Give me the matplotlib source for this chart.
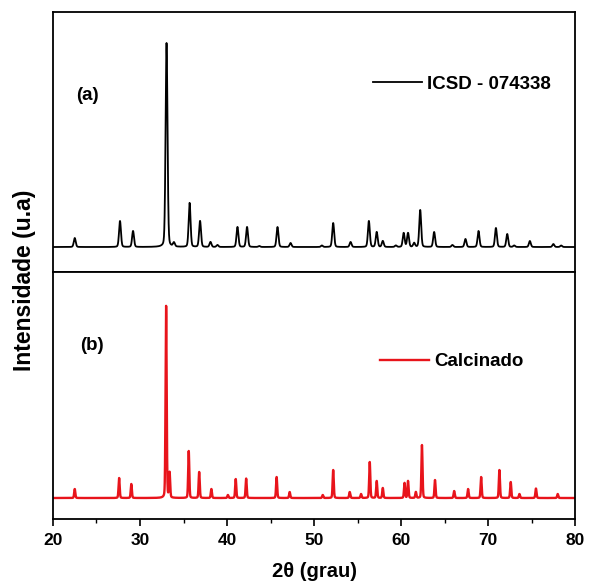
import numpy as np
import matplotlib
matplotlib.use("Agg")
import matplotlib.pyplot as plt
from matplotlib.ticker import MultipleLocator

plt.rcParams["font.family"] = ["Liberation Sans", "DejaVu Sans"]

# ICSD - 074338 (padrão de referência): posição 2θ, altura relativa
icsd_pos = [22.5, 27.7, 29.2, 33.05, 33.9, 35.7, 36.9, 38.1, 38.9, 41.2, 42.3, 43.7,
            45.8, 47.3, 50.9, 52.2, 54.2, 56.3, 57.2, 57.9, 59.4, 60.3, 60.8, 61.5,
            62.2, 63.8, 65.9, 67.4, 68.9, 70.9, 72.2, 73.0, 74.8, 77.5, 78.4]
icsd_h = [9, 26, 16, 204, 4, 44, 26, 5, 2, 20, 20, 1,
          20, 4, 1.5, 24, 5, 26, 15, 6, 1.5, 14, 14, 4,
          37, 15, 2, 8, 16, 19, 13, 1.5, 6, 3, 1.5]

# amostra calcinada
calc_pos = [22.5, 27.6, 29.0, 33.0, 33.4, 35.6, 36.8, 38.2, 40.1, 41.0, 42.2, 45.7,
            47.2, 51.0, 52.2, 54.1, 55.4, 56.4, 57.2, 57.9, 60.4, 60.8, 61.7, 62.4,
            63.9, 66.1, 67.7, 69.2, 71.3, 72.6, 73.6, 75.5, 78.0]
calc_h = [9, 20, 14, 192, 25, 47, 26, 9, 3, 19, 19.5, 21,
          6, 3, 28, 6, 4, 36, 17, 10, 15, 17, 6, 53,
          18, 7, 9, 21, 28, 16, 4, 9.5, 4]


def profile(x, pos, h, sig, eta=0.2):
    # pseudo-Voigt
    y = np.zeros_like(x)
    for p, a in zip(pos, h):
        g = np.exp(-0.5 * ((x - p) / sig) ** 2)
        l = 1 / (1 + ((x - p) / (1.18 * sig)) ** 2)
        y += a * ((1 - eta) * g + eta * l)
    return y


x = np.linspace(20, 80, 8000)
y_a = profile(x, icsd_pos, icsd_h, 0.11)
y_b = profile(x, calc_pos, calc_h, 0.065)

fig = plt.figure(figsize=(5.94, 5.85), dpi=100)
ax1 = fig.add_axes([0.0892, 0.535, 0.879, 0.4445])
ax2 = fig.add_axes([0.0892, 0.1128, 0.879, 0.4222])

ax1.plot(x, y_a, color="black", lw=1.3, label="ICSD - 074338")
ax2.plot(x, y_b, color="#e8141b", lw=1.7, label="Calcinado")

ax1.set_ylim(-25, 235)
ax2.set_ylim(-21, 226)
for ax in (ax1, ax2):
    ax.set_xlim(20, 80)
    ax.set_yticks([])
    for s in ax.spines.values():
        s.set_linewidth(1.3)

ax1.set_xticks([])
ax2.xaxis.set_major_locator(MultipleLocator(10))
ax2.xaxis.set_minor_locator(MultipleLocator(5))
ax2.tick_params(axis="x", which="major", direction="out", length=5, width=1.2,
                labelsize=12.5, pad=5)
ax2.tick_params(axis="x", which="minor", direction="out", length=3, width=1.0)
for lab in ax2.get_xticklabels():
    lab.set_fontweight("bold")

ax1.text(0.044, 0.677, "(a)", transform=ax1.transAxes, fontsize=13.5,
         fontweight="bold", va="center")
ax2.text(0.052, 0.704, "(b)", transform=ax2.transAxes, fontsize=13.5,
         fontweight="bold", va="center")

leg_kw = dict(loc="center left", frameon=False, borderpad=0, borderaxespad=0,
              handlelength=2.6, handletextpad=0.3,
              prop={"weight": "bold", "size": 13.5})
ax1.legend(bbox_to_anchor=(0.613, 0.723), **leg_kw)
ax2.legend(bbox_to_anchor=(0.626, 0.636), **leg_kw)

ax2.set_xlabel("2θ (grau)", fontsize=14.5, fontweight="bold", labelpad=10)
fig.text(0.042, 0.52, "Intensidade (u.a)", rotation=90, fontsize=16.5,
         fontweight="bold", ha="center", va="center")

fig.savefig("out.png", dpi=100)
